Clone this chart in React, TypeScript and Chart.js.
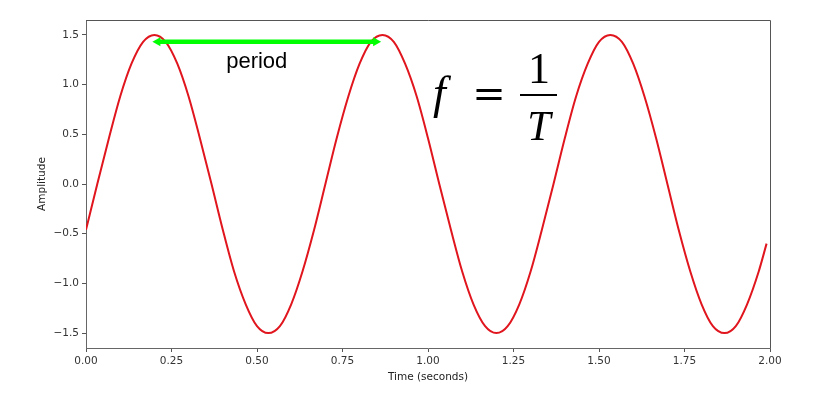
import React, { useEffect, useRef } from "react";
import { Chart, registerables } from "chart.js";

Chart.register(...registerables);

const times = [
  0, 0.033, 0.067, 0.1, 0.133, 0.167, 0.2, 0.233, 0.267, 0.3, 0.333, 0.367, 0.4, 0.433, 0.467, 0.5, 0.533, 0.567,
  0.6, 0.633, 0.667, 0.7, 0.733, 0.767, 0.8, 0.833, 0.867, 0.9, 0.933, 0.967, 1.0, 1.033, 1.067, 1.1, 1.133,
  1.167, 1.2, 1.233, 1.267, 1.3, 1.333, 1.367, 1.4, 1.433, 1.467, 1.5, 1.533, 1.567, 1.6, 1.633, 1.667, 1.7,
  1.733, 1.767, 1.8, 1.833, 1.867, 1.9, 1.933, 1.967, 1.99,
];
const amplitude = [
  -0.46, 0.0, 0.46, 0.88, 1.21, 1.43, 1.5, 1.43, 1.21, 0.88, 0.46, 0.0, -0.46, -0.88, -1.21, -1.43, -1.5, -1.43,
  -1.21, -0.88, -0.46, 0.0, 0.46, 0.88, 1.21, 1.43, 1.5, 1.43, 1.21, 0.88, 0.46, 0.0, -0.46, -0.88, -1.21,
  -1.43, -1.5, -1.43, -1.21, -0.88, -0.46, 0.0, 0.46, 0.88, 1.21, 1.43, 1.5, 1.43, 1.21, 0.88, 0.46, 0.0,
  -0.46, -0.88, -1.21, -1.43, -1.5, -1.43, -1.21, -0.88, -0.6,
];
const xTicks = [0, 0.25, 0.5, 0.75, 1.0, 1.25, 1.5, 1.75, 2.0];
const yTicks = [-1.5, -1.0, -0.5, 0.0, 0.5, 1.0, 1.5];
const periodStart = 0.2;
const periodEnd = 0.86;
const periodLevel = 1.43;
const periodLabel = "period";
const xTitle = "Time (seconds)";
const yTitle = "Amplitude";

const annotations = {
  id: "annotations",
  afterDatasetsDraw(chart: any) {
    const { ctx, chartArea, scales } = chart;
    const xs = scales.x;
    const ys = scales.y;
    ctx.save();
    // frame top/right
    ctx.strokeStyle = "#555";
    ctx.lineWidth = 1;
    ctx.beginPath();
    ctx.moveTo(chartArea.left, chartArea.top + 0.5);
    ctx.lineTo(chartArea.right + 0.5, chartArea.top + 0.5);
    ctx.lineTo(chartArea.right + 0.5, chartArea.bottom);
    ctx.stroke();

    // period arrow
    const x1 = xs.getPixelForValue(periodStart) - 2;
    const x2 = xs.getPixelForValue(periodEnd) + 1;
    const y = ys.getPixelForValue(periodLevel);
    ctx.strokeStyle = "#00ff00";
    ctx.fillStyle = "#00ff00";
    ctx.lineWidth = 4.5;
    ctx.beginPath();
    ctx.moveTo(x1 + 6, y);
    ctx.lineTo(x2 - 6, y);
    ctx.stroke();
    ctx.beginPath();
    ctx.moveTo(x1, y);
    ctx.lineTo(x1 + 8, y - 4.5);
    ctx.lineTo(x1 + 8, y + 4.5);
    ctx.closePath();
    ctx.fill();
    ctx.beginPath();
    ctx.moveTo(x2, y);
    ctx.lineTo(x2 - 8, y - 4.5);
    ctx.lineTo(x2 - 8, y + 4.5);
    ctx.closePath();
    ctx.fill();

    // period label
    ctx.fillStyle = "#000";
    ctx.font = '22px "Liberation Sans", Arial, sans-serif';
    ctx.textAlign = "center";
    ctx.textBaseline = "middle";
    ctx.fillText(periodLabel, (x1 + x2) / 2 - 10, y + 20);

    // formula f = 1/T
    ctx.textAlign = "left";
    ctx.textBaseline = "alphabetic";
    ctx.font = 'italic 46px "Liberation Serif", serif';
    ctx.fillText("f", 433, 108);
    ctx.textAlign = "center";
    ctx.textBaseline = "middle";
    ctx.font = '40px "DejaVu Serif", serif';
    ctx.fillText("=", 489, 97);
    ctx.textBaseline = "alphabetic";
    ctx.font = '44px "Liberation Serif", serif';
    ctx.fillText("1", 539, 83);
    ctx.fillRect(520, 94, 37, 2);
    ctx.font = 'italic 42px "Liberation Serif", serif';
    ctx.fillText("T", 539, 140);
    ctx.restore();
  },
};

export default function App() {
  const ref = useRef<HTMLCanvasElement>(null);
  useEffect(() => {
    if (!ref.current) return;
    const tickFont = { family: '"DejaVu Sans", sans-serif', size: 10.5 };
    const chart = new Chart(ref.current, {
      type: "line",
      data: {
        datasets: [
          {
            data: times.map((t, i) => ({ x: t, y: amplitude[i] })),
            borderColor: "#e0151d",
            borderWidth: 2,
            pointRadius: 0,
            cubicInterpolationMode: "monotone",
            fill: false,
          },
        ],
      },
      options: {
        animation: false,
        responsive: false,
        maintainAspectRatio: false,
        layout: { padding: { top: 20, right: 66, bottom: 0, left: 0 } },
        plugins: { legend: { display: false }, tooltip: { enabled: false } },
        scales: {
          x: {
            type: "linear",
            min: 0,
            max: 2,
            afterBuildTicks: (s: any) => {
              s.ticks = xTicks.map((v) => ({ value: v }));
            },
            afterFit: (s: any) => {
              s.height = 68;
            },
            grid: { drawOnChartArea: false, drawTicks: true, tickLength: 4, tickColor: "#555" },
            border: { color: "#666", width: 1 },
            ticks: {
              font: tickFont,
              color: "#333",
              padding: 3,
              maxRotation: 0,
              callback: (v: any) => Number(v).toFixed(2),
            },
            title: {
              display: true,
              text: xTitle,
              font: { family: '"DejaVu Sans", sans-serif', size: 10.5 },
              color: "#222",
              padding: { top: 0, bottom: 32 },
            },
          },
          y: {
            type: "linear",
            min: -1.65,
            max: 1.65,
            afterBuildTicks: (s: any) => {
              s.ticks = yTicks.map((v) => ({ value: v }));
            },
            afterFit: (s: any) => {
              s.width = 86;
            },
            grid: { drawOnChartArea: false, drawTicks: true, tickLength: 4, tickColor: "#555" },
            border: { color: "#666", width: 1 },
            ticks: {
              font: tickFont,
              color: "#333",
              padding: 3,
              callback: (v: any) => {
                const n = Number(v);
                const s = Math.abs(n).toFixed(1);
                return n < 0 ? "\u2212" + s : s;
              },
            },
            title: {
              display: true,
              text: yTitle,
              font: { family: '"DejaVu Sans", sans-serif', size: 10.5 },
              color: "#222",
              padding: { top: 36, bottom: 0 },
            },
          },
        },
      } as any,
      plugins: [annotations],
    });
    return () => chart.destroy();
  }, []);
  return (
    <div style={{ position: "absolute", left: 0, top: 0, width: 836, height: 416, background: "#fff" }}>
      <canvas ref={ref} width={836} height={416} style={{ width: 836, height: 416 }} />
    </div>
  );
}
